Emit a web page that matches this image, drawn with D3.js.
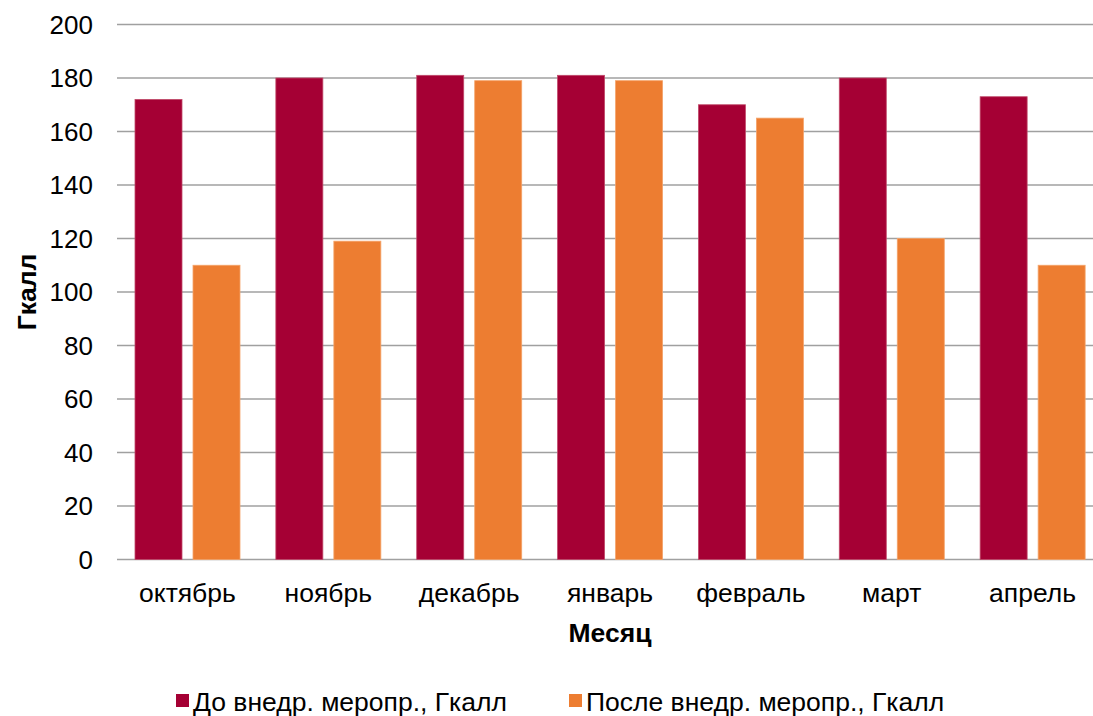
<!DOCTYPE html>
<html><head><meta charset="utf-8">
<script src="https://cdn.jsdelivr.net/npm/d3@7"></script>
<style>body{margin:0;background:#fff;} text{font-family:"Liberation Sans",Arial,sans-serif;}</style>
</head><body>
<svg id="c" width="1093" height="716"></svg>
<script>
const categories = ["октябрь","ноябрь","декабрь","январь","февраль","март","апрель"];
const seriesNames = ["До внедр. меропр., Гкалл","После внедр. меропр., Гкалл"];
const before = [172,180,181,181,170,180,173];
const after = [110,119,179,179,165,120,110];
const yTicks = [0,20,40,60,80,100,120,140,160,180,200];
const colors = ["#A50034","#ED7D31"];

(function(){
const svg = d3.select("#c");
const pLeft = 117, pRight = 1103, pTop = 24.5, pBottom = 559.5;
const x0 = d3.scaleBand().domain(categories).range([pLeft,pRight]);
const y = d3.scaleLinear().domain([0,200]).range([pBottom,pTop]);

// gridlines
svg.append("g").selectAll("line").data(yTicks).join("line")
  .attr("x1",pLeft).attr("x2",1093).attr("y1",d=>y(d)).attr("y2",d=>y(d))
  .attr("stroke","#a0a0a0").attr("stroke-width",1.3);

// y labels
svg.append("g").selectAll("text").data(yTicks).join("text")
  .attr("x",93).attr("y",d=>y(d)+9).attr("text-anchor","end")
  .attr("font-size",26).attr("fill","#000").text(d=>d);

const step = x0.bandwidth();
const bw = 47, gap = 11, pad = 18;
const data = categories.map((c,i)=>({c,vals:[before[i],after[i]]}));
const g = svg.append("g");
data.forEach(d=>{
  d.vals.forEach((v,j)=>{
    g.append("rect")
      .attr("x", x0(d.c)+pad+j*(bw+gap))
      .attr("y", y(v)).attr("width",bw).attr("height",y(0)-y(v))
      .attr("fill",colors[j]).attr("stroke",j===0?"#c04a6a":"#f4a46a").attr("stroke-width",0.8);
  });
});

// x labels
svg.append("g").selectAll("text").data(categories).join("text")
  .attr("x",d=>x0(d)+step/2).attr("y",602).attr("text-anchor","middle")
  .attr("font-size",26.5).attr("fill","#000").text(d=>d);

svg.append("text").attr("x",610).attr("y",642).attr("text-anchor","middle")
  .attr("font-size",26.5).attr("font-weight","bold").text("Месяц");
svg.append("text").attr("transform","translate(36,292) rotate(-90)").attr("text-anchor","middle")
  .attr("font-size",26.5).attr("font-weight","bold").text("Гкалл");

// legend
const legX = [176,569];
seriesNames.forEach((n,i)=>{
  svg.append("rect").attr("x",legX[i]).attr("y",694).attr("width",13).attr("height",13).attr("fill",colors[i]);
  svg.append("text").attr("x",legX[i]+17).attr("y",711).attr("font-size",26.5).attr("fill","#000").text(n);
});
})();
</script>
</body></html>
